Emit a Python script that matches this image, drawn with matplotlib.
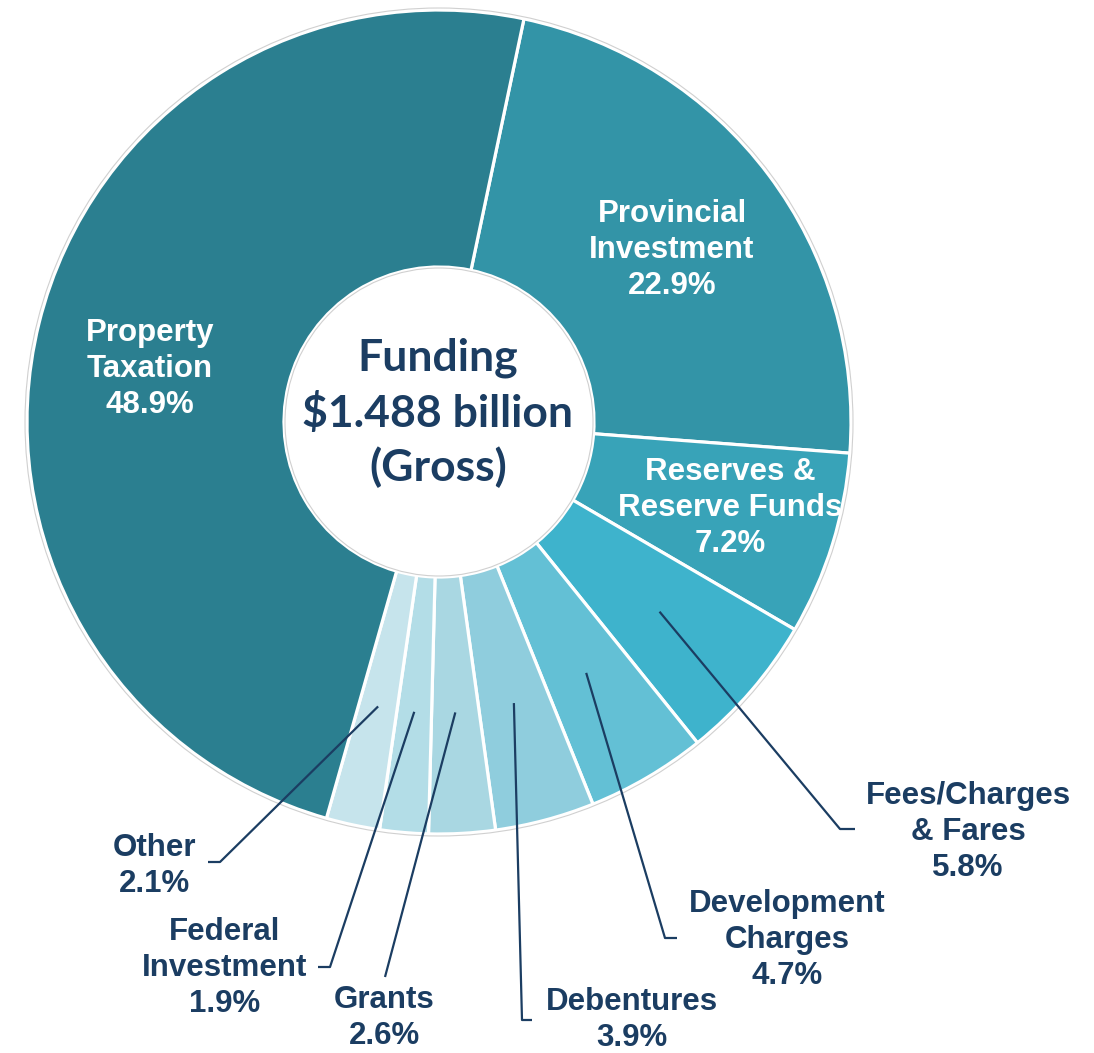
import numpy as np
import matplotlib
matplotlib.use("Agg")
import matplotlib.pyplot as plt
from matplotlib.patches import Circle

# ---- data ----
categories = ["Provincial\nInvestment", "Reserves &\nReserve Funds", "Fees/Charges\n& Fares",
              "Development\nCharges", "Debentures", "Grants", "Federal\nInvestment",
              "Other", "Property\nTaxation"]
shares = [22.9, 7.2, 5.8, 4.7, 3.9, 2.6, 1.9, 2.1, 48.9]
colors = ["#3394A7", "#38A3B8", "#3EB3CC", "#63C0D5", "#8FCDDD",
          "#A9D7E2", "#B3DDE7", "#C6E4EC", "#2B7F90"]
center_lines = ["Funding", "$1.488 billion", "(Gross)"]

NAVY = "#1B3D62"
W, H = 1094, 1053
cx, cy, R = 439, H - 422, 412
r_in = 155
start = 78.1

fig = plt.figure(figsize=(W / 100, H / 100), dpi=100)
ax = fig.add_axes([0, 0, 1, 1])
ax.set_xlim(0, W)
ax.set_ylim(0, H)
ax.axis("off")

wedges, _ = ax.pie(shares, colors=colors, startangle=start, counterclock=False,
                   center=(cx, cy), radius=R,
                   wedgeprops=dict(width=R - r_in, edgecolor="white", linewidth=2.3))
ax.set_xlim(0, W)
ax.set_ylim(0, H)
ax.set_aspect("equal")

ax.add_patch(Circle((cx, cy), R + 2, fill=False, edgecolor="#d0d0d0", linewidth=0.8))
ax.add_patch(Circle((cx, cy), r_in - 1, fill=False, edgecolor="#d0d0d0", linewidth=0.8))


def mid_point(i, frac):
    w = wedges[i]
    ang = np.deg2rad((w.theta1 + w.theta2) / 2)
    return cx + frac * R * np.cos(ang), cy + frac * R * np.sin(ang)


def Y(y):
    return H - y


fs = 22.5
lab_kw = dict(ha="center", va="center", fontsize=fs, fontweight="bold",
              family="Liberation Sans", linespacing=1.25)

# inside labels (white)
inside = {0: (672, 250), 1: (730, 508), 8: (150, 369)}
for i, (x, y) in inside.items():
    ax.text(x, Y(y), f"{categories[i]}\n{shares[i]}%", color="white", **lab_kw)

# outside labels with leader lines: (elbow, tick_end, text_pos)
outside = {
    2: ((840, 829), (855, 829), (968, 832)),
    3: ((665, 938), (677, 938), (787, 940)),
    4: ((522, 1020), (532, 1020), (632, 1020)),
    5: ((385, 977), None, (384, 1018)),
    6: ((330, 967), (318, 967), (225, 968)),
    7: ((220, 862), (208, 862), (155, 866)),
}
for i, (elbow, tick, tpos) in outside.items():
    sx, sy = mid_point(i, 0.706)
    xs = [sx, elbow[0]]
    ys = [sy, Y(elbow[1])]
    if tick is not None:
        xs.append(tick[0])
        ys.append(Y(tick[1]))
    ax.plot(xs, ys, color=NAVY, linewidth=1.6, solid_capstyle="butt")
    ax.text(tpos[0], Y(tpos[1]), f"{categories[i]}\n{shares[i]}%", color=NAVY, **lab_kw)

ax.text(cx - 1, Y(413), "\n".join(center_lines), ha="center", va="center",
        fontsize=32, fontweight="bold", family="Lato", color=NAVY, linespacing=1.38)

fig.savefig("out.png", dpi=100)
